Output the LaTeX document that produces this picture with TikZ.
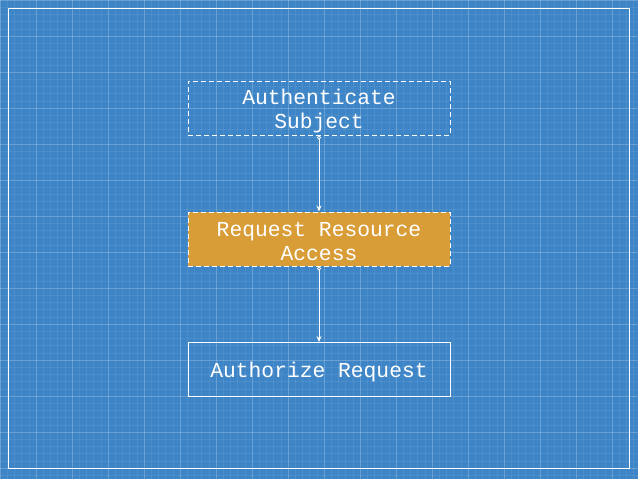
\documentclass[tikz,border=0pt]{standalone}
\usepackage{fontspec}
\setmonofont{Liberation Mono}
\usetikzlibrary{arrows.meta}
\definecolor{bp}{HTML}{3D85C6}
\definecolor{boxor}{HTML}{D99D38}
\tikzset{
  box/.style={draw=white, line width=1pt, minimum width=262pt, minimum height=54pt, align=center, text=white, font=\ttfamily\fontsize{21.3}{24}\selectfont, inner sep=0pt, text depth=0pt},
  dbox/.style={box, dash pattern=on 5pt off 3pt},
  link/.style={draw=white, line width=0.7pt, {Circle[open,length=4pt,fill=bp]}-{Stealth[length=6pt,width=5pt]}}
}
\begin{document}
\begin{tikzpicture}[x=1pt,y=-1pt]
\useasboundingbox (0,0) rectangle (638,479);
\fill[bp] (0,0) rectangle (638,479);
\foreach \i in {0,...,90} {
  \draw[white, opacity=0.07, line width=0.4pt] (\i*7.2,0) -- (\i*7.2,479);
}
\foreach \i in {0,...,67} {
  \draw[white, opacity=0.07, line width=0.4pt] (0,\i*7.2) -- (638,\i*7.2);
}
\foreach \i in {0,...,18} {
  \draw[white, opacity=0.16, line width=0.6pt] (\i*36,0) -- (\i*36,479);
}
\foreach \i in {0,...,14} {
  \draw[white, opacity=0.16, line width=0.6pt] (0,\i*36) -- (638,\i*36);
}
\draw[white, line width=1.2pt] (8.5,8.5) rectangle (629.5,468.5);
\node[dbox, text height=41pt] (auth) at (319,108) {Authenticate\\Subject};
\node[dbox, fill=boxor, text height=43pt] (req) at (319,239) {Request Resource\\Access};
\node[box, text height=15.5pt] (authz) at (319,369.5) {Authorize Request};
\draw[link] (auth.south) -- (req.north);
\draw[link] (req.south) -- (authz.north);
\end{tikzpicture}
\end{document}
